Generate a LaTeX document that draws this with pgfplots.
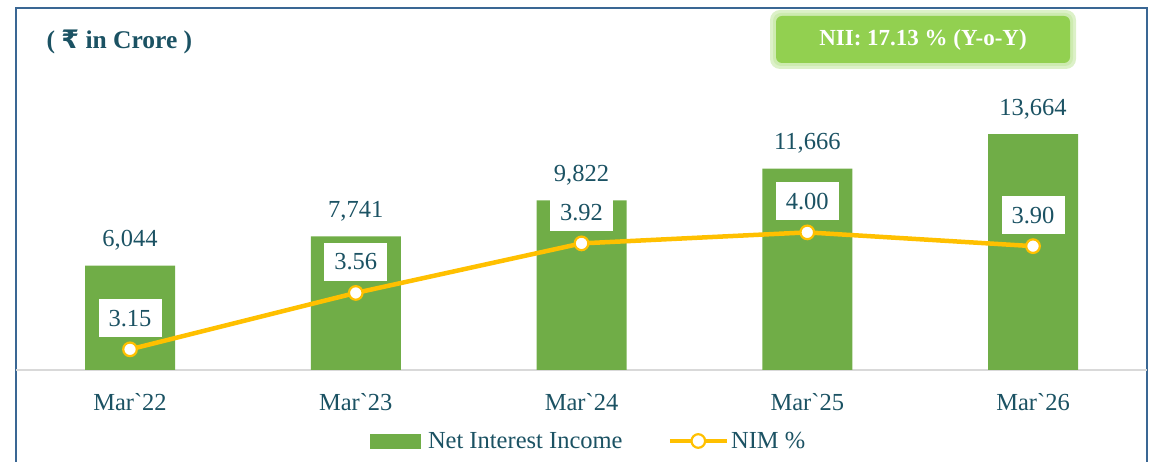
\documentclass[border=0pt]{standalone}
\usepackage{fontspec}
\setmainfont{Liberation Serif}[Ligatures=TeXOff]
\newfontfamily\rupee{DejaVu Sans}
\usepackage{pgfplots}
\usepackage{pgfplotstable}
\pgfplotsset{compat=1.18}

\definecolor{barg}{HTML}{70AD47}
\definecolor{nimy}{HTML}{FFC000}
\definecolor{txt}{HTML}{1B5263}
\definecolor{framec}{HTML}{3A6794}
\definecolor{niibox}{HTML}{92D050}
\definecolor{niiglow}{HTML}{CDEBB0}

\pgfplotstableread{
x nii nim
0 6044 3.15
1 7741 3.56
2 9822 3.92
3 11666 4.00
4 13664 3.90
}\nimdata

\tikzset{lbl/.style={font=\fontsize{24.5}{28}\selectfont, text=txt}}
\pgfplotsset{
  nimline/.style={color=nimy, line width=4.5pt, mark=*, mark size=6.8pt,
    mark options={fill=white, draw=nimy, line width=2.2pt}},
  nimlegend/.style={legend image code/.code={%
    \draw[##1, mark repeat=2, mark phase=2] plot coordinates {(0pt,0pt) (28.5pt,0pt) (57pt,0pt)};}},
  barlegend/.style={legend image code/.code={%
    \fill[barg] (0pt,-7.5pt) rectangle (51pt,7.5pt);
    \path (56pt,0pt);}},
}

\begin{document}
\begin{tikzpicture}[x=1pt,y=1pt]
\path[use as bounding box] (0,0) rectangle (1157,462);

% frame
\draw[framec, line width=2.5pt] (16,-2) -- (16,454) -- (1147,454) -- (1147,-2);

\begin{axis}[
  at={(16pt,92pt)}, anchor=south west,
  scale only axis, width=1131pt, height=300pt,
  xmin=-0.505, xmax=4.505, ymin=0, ymax=17371,
  axis x line*=bottom, axis y line=none,
  x axis line style={draw=gray!30, line width=1.5pt},
  xtick={0,1,2,3,4},
  xticklabels={Mar`22,Mar`23,Mar`24,Mar`25,Mar`26},
  major tick length=0pt,
  xticklabel style={lbl, anchor=base, yshift=-41pt},
  legend columns=2,
  legend cell align=left,
  legend style={at={(0.313,-0.2367)}, anchor=west, draw=none, fill=none,
    inner sep=0pt, outer sep=0pt, lbl,
    /tikz/every even column/.append style={column sep=43pt}},
]
\addplot[ybar, bar width=90pt, fill=barg, draw=none, barlegend,
  nodes near coords={\pgfmathprintnumber[assume math mode=true, fixed, precision=0, 1000 sep={,}]{\pgfplotspointmeta}},
  nodes near coords style={lbl, anchor=south, inner sep=0pt, yshift=15pt}]
  table[x=x, y=nii]{\nimdata};
\addlegendentry{Net Interest Income}
\addlegendimage{nimline, nimlegend}
\addlegendentry{NIM \%}
\end{axis}

\begin{axis}[
  at={(16pt,92pt)}, anchor=south west,
  scale only axis, width=1131pt, height=300pt,
  xmin=-0.505, xmax=4.505, ymin=3, ymax=5.18,
  hide axis, clip=false,
]
\addplot[nimline,
  nodes near coords={\pgfmathprintnumber[assume math mode=true, fixed, fixed zerofill, precision=2]{\pgfplotspointmeta}},
  nodes near coords style={lbl, fill=white, inner sep=0pt, minimum width=63pt,
    minimum height=38pt, anchor=south, yshift=11pt}]
  table[x=x, y=nim]{\nimdata};
\end{axis}

% title
\node[anchor=west, text=txt, font=\fontsize{25.5}{29}\selectfont\bfseries] at (43,420) {( {\rupee ₹} in Crore )};

% NII badge
\fill[niiglow!70, rounded corners=10pt] (770,393) rectangle (1076,452);
\fill[niiglow, rounded corners=8pt] (773,396) rectangle (1073,449);
\fill[niibox, rounded corners=6pt] (776,399) rectangle (1070,446);
\node[text=white, font=\fontsize{23}{27}\selectfont\bfseries] at (923,422.5) {NII: 17.13 \% (Y-o-Y)};
\end{tikzpicture}
\end{document}
